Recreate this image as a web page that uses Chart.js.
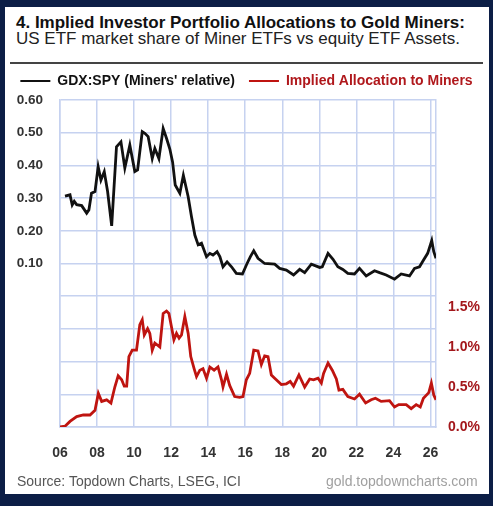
<!DOCTYPE html>
<html>
<head>
<meta charset="utf-8">
<script src="https://cdn.jsdelivr.net/npm/chart.js@4.4.1/dist/chart.umd.min.js"></script>
<style>
  body { margin: 0; width: 493px; height: 506px; overflow: hidden; position: relative; background: #0c1e46; font-family: "Liberation Sans", Arial, sans-serif; }
  #panel { position: absolute; left: 5px; top: 7px; width: 484px; height: 487px; background: #fff; }
  .txt { position: absolute; white-space: nowrap; }
  #title { left: 16px; top: 13.6px; font-size: 17px; line-height: 17px; font-weight: bold; color: #111; }
  #subtitle { left: 16px; top: 29.6px; font-size: 17px; line-height: 17px; color: #222; }
  #rule { position: absolute; left: 10px; top: 62px; width: 473px; height: 2px; background: #444; }
  #source { left: 17px; top: 474px; font-size: 14px; line-height: 14px; color: #555; }
  #site { left: 326px; top: 474px; font-size: 14px; line-height: 14px; color: #a0a0a0; }
  canvas { position: absolute; left: 0; top: 0; }
</style>
</head>
<body>
<div id="panel"></div>
<div class="txt" id="title">4. Implied Investor Portfolio Allocations to Gold Miners:</div>
<div class="txt" id="subtitle">US ETF market share of Miner ETFs vs equity ETF Assets.</div>
<div id="rule"></div>
<canvas id="chart" width="493" height="506"></canvas>
<div class="txt" id="source">Source: Topdown Charts, LSEG, ICI</div>
<div class="txt" id="site">gold.topdowncharts.com</div>
<script>
// GDX:SPY ratio (left axis)
const gdxYears = [2006.27, 2006.54, 2006.66, 2006.77, 2006.9, 2007.17, 2007.44, 2007.56, 2007.7, 2007.89,
  2008.06, 2008.21, 2008.39, 2008.57, 2008.79, 2009.05, 2009.29, 2009.5, 2009.77, 2010.04,
  2010.19, 2010.44, 2010.58, 2010.76, 2010.98, 2011.12, 2011.34, 2011.57, 2011.75, 2011.93,
  2012.08, 2012.22, 2012.47, 2012.66, 2012.92, 2013.1, 2013.28, 2013.46, 2013.64, 2013.91,
  2014.09, 2014.26, 2014.48, 2014.63, 2014.8, 2015.02, 2015.26, 2015.52, 2015.85, 2016.1,
  2016.28, 2016.46, 2016.69, 2017.05, 2017.59, 2017.86, 2018.22, 2018.61, 2018.94, 2019.21,
  2019.57, 2020.02, 2020.16, 2020.47, 2020.74, 2021.0, 2021.27, 2021.54, 2021.9, 2022.17,
  2022.53, 2022.98, 2023.25, 2023.61, 2024.06, 2024.42, 2024.87, 2025.14, 2025.41, 2025.62,
  2025.85, 2026.07, 2026.18, 2026.3];
const gdxValues = [0.306, 0.31, 0.279, 0.29, 0.28, 0.277, 0.254, 0.264, 0.315, 0.32,
  0.396, 0.355, 0.381, 0.32, 0.215, 0.457, 0.472, 0.392, 0.462, 0.381,
  0.386, 0.503, 0.498, 0.488, 0.421, 0.452, 0.421, 0.513, 0.483, 0.45,
  0.41, 0.34, 0.315, 0.37, 0.304, 0.243, 0.187, 0.157, 0.162, 0.121,
  0.131, 0.126, 0.136, 0.121, 0.09, 0.105, 0.09, 0.07, 0.068, 0.10,
  0.121, 0.139, 0.116, 0.10, 0.098, 0.085, 0.08, 0.065, 0.082, 0.072,
  0.098, 0.088, 0.09, 0.131, 0.113, 0.09, 0.082, 0.07, 0.068, 0.085,
  0.062, 0.078, 0.072, 0.065, 0.052, 0.068, 0.062, 0.085, 0.09, 0.11,
  0.131, 0.17, 0.136, 0.116];

// Implied allocation to miners, % (right axis)
const allocYears = [2006.0, 2006.27, 2006.54, 2006.9, 2007.26, 2007.62, 2007.89, 2008.07, 2008.25, 2008.52,
  2008.75, 2008.96, 2009.14, 2009.33, 2009.47, 2009.6, 2009.72, 2009.9, 2010.13, 2010.31,
  2010.44, 2010.55, 2010.73, 2010.85, 2010.98, 2011.12, 2011.39, 2011.57, 2011.75, 2011.88,
  2012.02, 2012.15, 2012.29, 2012.43, 2012.56, 2012.74, 2012.92, 2013.06, 2013.24, 2013.37,
  2013.55, 2013.72, 2013.91, 2014.09, 2014.32, 2014.53, 2014.72, 2014.8, 2014.99, 2015.16,
  2015.43, 2015.7, 2015.88, 2016.06, 2016.24, 2016.46, 2016.69, 2016.87, 2017.05, 2017.23,
  2017.41, 2017.59, 2017.95, 2018.22, 2018.43, 2018.61, 2018.9, 2019.21, 2019.48, 2019.69,
  2019.93, 2020.11, 2020.23, 2020.47, 2020.7, 2020.92, 2021.06, 2021.27, 2021.54, 2021.9,
  2022.17, 2022.5, 2022.8, 2023.03, 2023.34, 2023.79, 2024.06, 2024.29, 2024.69, 2024.96,
  2025.23, 2025.45, 2025.62, 2025.91, 2026.05, 2026.18, 2026.3];
const allocValues = [0.0, 0.01, 0.07, 0.13, 0.15, 0.15, 0.21, 0.42, 0.32, 0.34,
  0.30, 0.50, 0.64, 0.59, 0.51, 0.51, 0.88, 0.96, 0.96, 1.28,
  1.34, 1.15, 1.23, 1.17, 0.96, 1.05, 1.0, 1.42, 1.45, 1.42,
  1.25, 1.09, 1.17, 1.11, 1.15, 1.38, 1.17, 0.88, 0.73, 0.63,
  0.71, 0.73, 0.61, 0.75, 0.71, 0.75, 0.59, 0.50, 0.66, 0.52,
  0.38, 0.37, 0.38, 0.59, 0.67, 0.96, 0.95, 0.78, 0.89, 0.88,
  0.65, 0.61, 0.53, 0.54, 0.57, 0.51, 0.65, 0.50, 0.60, 0.59,
  0.61, 0.55, 0.67, 0.80, 0.71, 0.60, 0.46, 0.47, 0.38, 0.35,
  0.41, 0.30, 0.34, 0.36, 0.32, 0.33, 0.25, 0.28, 0.28, 0.23,
  0.28, 0.25, 0.36, 0.43, 0.55, 0.40, 0.34];

const seriesLabels = ["GDX:SPY (Miners' relative)", "Implied Allocation to Miners"];
const leftTicks = [0.10, 0.20, 0.30, 0.40, 0.50, 0.60];
const rightTicks = [0.0, 0.5, 1.0, 1.5];

// plain greys vanished from the photo, so the grid carries a light tint
const gridColor = 'rgb(198, 210, 240)';
const blackLine = '#111111';
const redLine = '#bf1410';

Chart.defaults.font.family = '"Liberation Sans", Arial, sans-serif';

const ctx = document.getElementById('chart').getContext('2d');
new Chart(ctx, {
  type: 'line',
  data: {
    datasets: [{
      label: seriesLabels[0],
      data: gdxYears.map((x, i) => ({x: x, y: gdxValues[i]})),
      borderColor: blackLine,
      borderWidth: 2.8,
      pointRadius: 0,
      tension: 0,
      yAxisID: 'y'
    }, {
      label: seriesLabels[1],
      data: allocYears.map((x, i) => ({x: x, y: allocValues[i]})),
      borderColor: redLine,
      borderWidth: 2.8,
      pointRadius: 0,
      tension: 0,
      yAxisID: 'y1'
    }]
  },
  options: {
    responsive: false,
    animation: false,
    layout: { padding: { top: 60, left: 0, right: 0, bottom: 0 } },
    scales: {
      x: {
        type: 'linear',
        min: 2006,
        max: 2026.3,
        afterFit: s => { s.height = 79; },
        grid: { display: true, color: gridColor, lineWidth: 1.5, drawTicks: false },
        border: { display: true, color: gridColor, width: 1.5 },
        ticks: {
          stepSize: 2,
          includeBounds: false,
          padding: 18,
          maxRotation: 0,
          color: '#333',
          font: { size: 14, weight: 'bold' },
          callback: v => String(v % 100).padStart(2, '0')
        }
      },
      y: {
        position: 'left',
        min: -0.4,
        max: 0.6,
        afterFit: s => { s.width = 60; },
        grid: { display: true, color: gridColor, lineWidth: 1.5, drawTicks: false },
        border: { display: true, color: gridColor, width: 1.5 },
        ticks: {
          stepSize: 0.1,
          padding: 17,
          color: '#333',
          font: { size: 13.5, weight: 'bold' },
          callback: v => leftTicks.some(t => Math.abs(t - v) < 1e-6) ? v.toFixed(2) : ''
        }
      },
      y1: {
        position: 'right',
        min: 0,
        max: 4.0875,
        afterFit: s => { s.width = 57; },
        grid: { display: false, drawTicks: false },
        border: { display: true, color: gridColor, width: 1.5 },
        ticks: {
          stepSize: 0.5,
          includeBounds: false,
          padding: 12,
          color: '#a3171b',
          font: { size: 14, weight: 'bold' },
          callback: v => rightTicks.some(t => Math.abs(t - v) < 1e-6) ? v.toFixed(1) + '%' : ''
        }
      }
    },
    plugins: {
      legend: {
        display: true,
        position: 'top',
        weight: 3000,
        labels: {
          boxWidth: 30,
          boxHeight: 2,
          padding: 14,
          font: { size: 14, weight: 'bold' },
          generateLabels: chart => chart.data.datasets.map((d, i) => ({
            text: d.label,
            fillStyle: d.borderColor,
            strokeStyle: d.borderColor,
            lineWidth: 0,
            fontColor: i === 0 ? '#111' : '#b0181c',
            datasetIndex: i,
            hidden: false
          }))
        }
      },
      subtitle: {
        display: true,
        text: '',
        font: { size: 1, lineHeight: 1 },
        padding: { top: 0, bottom: 1 }
      },
      tooltip: { enabled: false }
    }
  }
});
</script>
</body>
</html>
